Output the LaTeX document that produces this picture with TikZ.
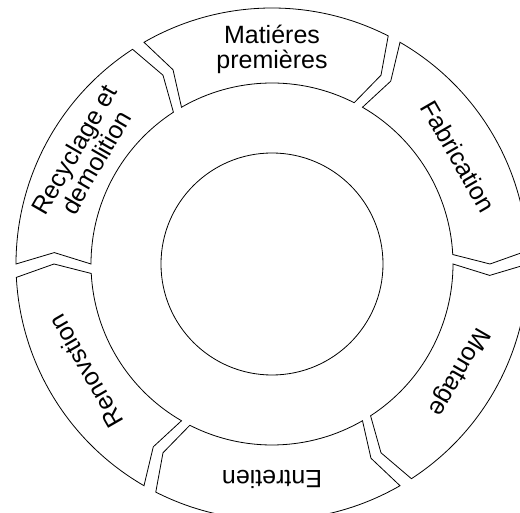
\documentclass[tikz,border=0pt]{standalone}
\usepackage{fontspec}
\setmainfont{Liberation Sans}
\begin{document}
\begin{tikzpicture}[x=1pt,y=1pt,
  seg/.style={draw=black, line width=0.8pt, line join=miter, fill=white},
  lbl/.style={font=\fontsize{25}{25}\selectfont, align=center, text=black, inner sep=0pt}]
\useasboundingbox (-272,-249) rectangle (248,264);
\clip (-272,-249) rectangle (248,264);
\foreach \g in {0,60,...,300} {
  \draw[seg] (\g+60:256pt) arc[start angle=\g+60, end angle=\g+3, radius=256pt]
    -- (\g:218pt) -- (\g+3:181pt)
    arc[start angle=\g+3, end angle=\g+60, radius=181pt]
    -- (\g+57:218pt) -- cycle;
}
\node[seg, circle, minimum size=222pt, inner sep=0pt] (core) at (0,0) {};
\node[lbl, rotate=0]    (mat) at (90:215pt)  {Matiéres\\premières};
\node[lbl, rotate=-60]  (fab) at (30:215pt)  {Fabrication};
\node[lbl, rotate=-120] (mon) at (-30:215pt) {Montage};
\node[lbl, rotate=180]  (ent) at (270:215pt) {Entretien};
\node[lbl, rotate=120]  (ren) at (210:215pt) {Renovstion};
\node[lbl, rotate=60]   (rec) at (150:216pt) {Recyclage et\\demolition};
\end{tikzpicture}
\end{document}
